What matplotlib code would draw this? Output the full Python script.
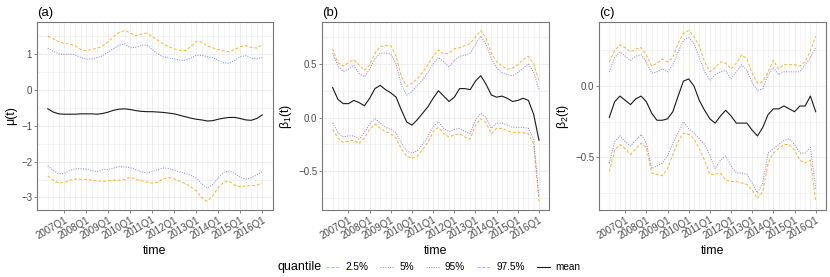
import matplotlib
matplotlib.use("Agg")
import matplotlib.pyplot as plt
from matplotlib.lines import Line2D
from matplotlib.ticker import FixedLocator, MultipleLocator
import numpy as np
import pandas as pd

plt.rcParams["font.family"] = ["Liberation Sans", "DejaVu Sans"]

# quarterly time axis
time = pd.period_range("2006Q2", "2016Q1", freq="Q")
tick_years = [2007, 2008, 2009, 2010, 2011, 2012, 2013, 2014, 2015, 2016]
tick_labels = ["2007Q1", "2008Q1", "2009Q1", "2010Q1", "2011Q1",
               "2012Q1", "2013Q1", "2014Q1", "2015Q1", "2016Q1"]

# (a) mu(t)
a_q975 = [1.49, 1.42, 1.34, 1.29, 1.28, 1.22, 1.12, 1.09, 1.12, 1.16,
          1.22, 1.34, 1.48, 1.60, 1.65, 1.58, 1.51, 1.55, 1.58, 1.48,
          1.38, 1.28, 1.20, 1.14, 1.10, 1.09, 1.20, 1.35, 1.33, 1.22,
          1.17, 1.12, 1.08, 1.06, 1.12, 1.20, 1.23, 1.18, 1.16, 1.26]
a_q95 = [1.15, 1.08, 1.00, 0.98, 1.00, 0.97, 0.90, 0.85, 0.86, 0.90,
         0.95, 1.05, 1.15, 1.24, 1.28, 1.17, 1.18, 1.24, 1.25, 1.12,
         1.00, 0.92, 0.88, 0.86, 0.83, 0.82, 0.88, 0.96, 0.96, 0.92,
         0.90, 0.82, 0.75, 0.74, 0.82, 0.92, 0.95, 0.88, 0.86, 0.90]
a_mean = [-0.53, -0.62, -0.67, -0.68, -0.68, -0.68, -0.67, -0.67, -0.67, -0.68,
          -0.66, -0.62, -0.57, -0.54, -0.53, -0.55, -0.58, -0.60, -0.61, -0.61,
          -0.62, -0.63, -0.65, -0.67, -0.71, -0.75, -0.79, -0.82, -0.84, -0.87,
          -0.86, -0.82, -0.79, -0.77, -0.77, -0.80, -0.84, -0.85, -0.80, -0.70]
a_q05 = [-2.12, -2.25, -2.34, -2.33, -2.25, -2.20, -2.20, -2.21, -2.25, -2.28,
         -2.23, -2.22, -2.18, -2.14, -2.15, -2.17, -2.22, -2.28, -2.32, -2.28,
         -2.22, -2.18, -2.19, -2.24, -2.29, -2.33, -2.38, -2.46, -2.62, -2.74,
         -2.64, -2.45, -2.30, -2.26, -2.33, -2.44, -2.49, -2.45, -2.37, -2.28]
a_q025 = [-2.40, -2.52, -2.60, -2.58, -2.52, -2.49, -2.49, -2.50, -2.52, -2.54,
          -2.55, -2.53, -2.52, -2.52, -2.50, -2.43, -2.50, -2.53, -2.57, -2.60,
          -2.57, -2.48, -2.44, -2.48, -2.55, -2.61, -2.70, -2.82, -3.00, -3.11,
          -2.95, -2.72, -2.57, -2.55, -2.66, -2.70, -2.68, -2.67, -2.66, -2.59]

# (b) beta_1(t)
b_q975 = [0.64, 0.51, 0.48, 0.51, 0.54, 0.49, 0.44, 0.49, 0.60, 0.66,
          0.67, 0.67, 0.57, 0.38, 0.29, 0.32, 0.36, 0.42, 0.49, 0.57,
          0.63, 0.59, 0.60, 0.64, 0.65, 0.67, 0.69, 0.75, 0.81, 0.74,
          0.60, 0.52, 0.48, 0.45, 0.46, 0.49, 0.54, 0.57, 0.50, 0.34]
b_q95 = [0.60, 0.48, 0.43, 0.45, 0.49, 0.41, 0.38, 0.45, 0.55, 0.60,
         0.60, 0.59, 0.50, 0.30, 0.21, 0.24, 0.30, 0.35, 0.42, 0.50,
         0.56, 0.52, 0.47, 0.53, 0.57, 0.58, 0.60, 0.68, 0.76, 0.68,
         0.55, 0.46, 0.42, 0.40, 0.39, 0.42, 0.46, 0.50, 0.42, 0.26]
b_mean = [0.28, 0.17, 0.13, 0.13, 0.16, 0.14, 0.11, 0.18, 0.27, 0.30,
          0.26, 0.23, 0.19, 0.07, -0.04, -0.07, -0.02, 0.04, 0.10, 0.18,
          0.25, 0.20, 0.15, 0.19, 0.27, 0.27, 0.26, 0.34, 0.39, 0.31,
          0.21, 0.19, 0.20, 0.18, 0.15, 0.16, 0.18, 0.16, 0.03, -0.21]
b_q05 = [-0.05, -0.14, -0.18, -0.17, -0.17, -0.20, -0.14, -0.06, -0.01, -0.05,
         -0.09, -0.11, -0.14, -0.24, -0.31, -0.33, -0.31, -0.25, -0.18, -0.08,
         -0.04, -0.10, -0.13, -0.11, -0.10, -0.13, -0.15, -0.02, 0.04, 0.00,
         -0.10, -0.05, -0.05, -0.07, -0.09, -0.09, -0.09, -0.10, -0.20, -0.73]
b_q025 = [-0.11, -0.19, -0.23, -0.22, -0.21, -0.24, -0.19, -0.11, -0.06, -0.10,
          -0.13, -0.15, -0.19, -0.29, -0.36, -0.38, -0.36, -0.30, -0.23, -0.13,
          -0.09, -0.15, -0.18, -0.16, -0.15, -0.18, -0.20, -0.07, -0.01, -0.05,
          -0.15, -0.10, -0.10, -0.12, -0.14, -0.14, -0.14, -0.15, -0.25, -0.78]

# (c) beta_2(t)
c_q975 = [0.17, 0.25, 0.29, 0.27, 0.24, 0.26, 0.27, 0.22, 0.14, 0.16,
          0.19, 0.17, 0.20, 0.30, 0.37, 0.39, 0.35, 0.28, 0.17, 0.10,
          0.13, 0.17, 0.16, 0.12, 0.16, 0.22, 0.19, 0.09, 0.02, 0.03,
          0.10, 0.18, 0.12, 0.15, 0.15, 0.15, 0.14, 0.17, 0.25, 0.35]
c_q95 = [0.10, 0.20, 0.24, 0.21, 0.18, 0.21, 0.22, 0.17, 0.09, 0.10,
         0.12, 0.10, 0.15, 0.24, 0.32, 0.34, 0.30, 0.20, 0.10, 0.04,
         0.08, 0.10, 0.11, 0.05, 0.10, 0.15, 0.11, 0.02, -0.03, -0.02,
         0.08, 0.13, 0.08, 0.10, 0.10, 0.10, 0.10, 0.15, 0.20, 0.27]
c_mean = [-0.22, -0.11, -0.07, -0.10, -0.13, -0.09, -0.07, -0.11, -0.19, -0.24,
          -0.24, -0.23, -0.18, -0.07, 0.035, 0.05, 0.00, -0.10, -0.17, -0.23,
          -0.26, -0.21, -0.17, -0.21, -0.26, -0.26, -0.26, -0.31, -0.35, -0.29,
          -0.20, -0.16, -0.16, -0.14, -0.16, -0.18, -0.14, -0.14, -0.07, -0.18]
c_q05 = [-0.54, -0.39, -0.35, -0.39, -0.42, -0.38, -0.34, -0.40, -0.58, -0.56,
         -0.54, -0.49, -0.40, -0.33, -0.25, -0.30, -0.33, -0.37, -0.41, -0.49,
         -0.58, -0.52, -0.49, -0.56, -0.61, -0.61, -0.62, -0.68, -0.75, -0.68,
         -0.47, -0.44, -0.41, -0.38, -0.37, -0.41, -0.47, -0.47, -0.43, -0.72]
c_q025 = [-0.60, -0.45, -0.41, -0.44, -0.48, -0.44, -0.40, -0.43, -0.61, -0.62,
          -0.63, -0.58, -0.48, -0.39, -0.33, -0.34, -0.37, -0.44, -0.52, -0.62,
          -0.62, -0.61, -0.66, -0.67, -0.67, -0.68, -0.69, -0.73, -0.79, -0.74,
          -0.54, -0.47, -0.44, -0.41, -0.41, -0.45, -0.52, -0.54, -0.52, -0.81]

ORANGE = "#FFA500"
BLUE = "#4545FF"
GRID = "#EBEBEB"

xs = time.year + (time.quarter - 1) / 4.0

panels = [
    ("(a)", "μ(t)", [a_q025, a_q05, a_q95, a_q975, a_mean], [0.0446, 0.2843], 1.0, 0.5),
    ("(b)", r"$\mathregular{\beta_1(t)}$", [b_q025, b_q05, b_q95, b_q975, b_mean], [0.3883, 0.2735], 0.5, 0.25),
    ("(c)", r"$\mathregular{\beta_2(t)}$", [c_q025, c_q05, c_q95, c_q975, c_mean], [0.7217, 0.2735], 0.5, 0.25),
]

fig = plt.figure(figsize=(8.3, 2.77), dpi=100)

for title, ylab, series, (left, width), major, minor in panels:
    ax = fig.add_axes([left, 0.2419, width, 0.6787])
    q025, q05, q95, q975, mean = series
    ax.plot(xs, q025, color=ORANGE, lw=0.7, ls=(0, (3, 2)), alpha=0.85)
    ax.plot(xs, q05, color=BLUE, lw=0.7, ls=(0, (1, 1.5)), alpha=0.7)
    ax.plot(xs, q95, color=BLUE, lw=0.7, ls=(0, (1, 1.5)), alpha=0.7)
    ax.plot(xs, q975, color=ORANGE, lw=0.7, ls=(0, (3, 2)), alpha=0.85)
    ax.plot(xs, mean, color="#1a1a1a", lw=0.8)

    span = xs[-1] - xs[0]
    ax.set_xlim(xs[0] - 0.05 * span, xs[-1] + 0.05 * span)
    allv = np.concatenate([np.asarray(s, dtype=float) for s in series])
    lo, hi = allv.min(), allv.max()
    ax.set_ylim(lo - 0.05 * (hi - lo), hi + 0.05 * (hi - lo))

    ax.set_xticks(tick_years)
    ax.set_xticklabels(tick_labels, rotation=30, ha="right", va="top",
                       rotation_mode="anchor")
    ax.xaxis.set_minor_locator(FixedLocator(list(xs)))
    ax.yaxis.set_major_locator(MultipleLocator(major))
    ax.yaxis.set_minor_locator(MultipleLocator(minor))
    if major == 1.0:
        ax.yaxis.set_major_formatter(lambda v, p: f"{v:.0f}".replace("-", "\u2212"))
    else:
        ax.yaxis.set_major_formatter(lambda v, p: f"{v:.1f}".replace("-", "\u2212"))

    ax.grid(True, which="major", color=GRID, lw=0.6)
    ax.grid(True, which="minor", color=GRID, lw=0.4)
    ax.set_axisbelow(True)
    ax.tick_params(which="major", length=2, width=0.5, color="#555555",
                   labelsize=7, labelcolor="#4D4D4D", pad=1.5)
    ax.tick_params(which="minor", length=0)
    for sp in ax.spines.values():
        sp.set_color("#777777")
        sp.set_linewidth(0.8)

    ax.set_xlabel("time", fontsize=8.8, labelpad=3)
    ax.set_ylabel(ylab, fontsize=8.8, labelpad=3)
    ax.set_title(title, loc="left", fontsize=9.5, pad=4, x=0.0)

# legend along the bottom
fig.text(0.334, 0.035, "quantile", fontsize=9, va="center", ha="left")
handles = [
    Line2D([], [], color=ORANGE, lw=0.7, ls=(0, (3, 2)), alpha=0.85),
    Line2D([], [], color=BLUE, lw=0.7, ls=(0, (1, 1.5)), alpha=0.7),
    Line2D([], [], color=BLUE, lw=0.7, ls=(0, (1, 1.5)), alpha=0.7),
    Line2D([], [], color=ORANGE, lw=0.7, ls=(0, (3, 2)), alpha=0.85),
    Line2D([], [], color="#1a1a1a", lw=0.8),
]
labels = ["2.5%", "5%", "95%", "97.5%", "mean"]
fig.legend(handles, labels, loc="center left", bbox_to_anchor=(0.393, 0.035),
           ncol=5, frameon=False, fontsize=7.2, handlelength=1.3,
           handletextpad=0.6, columnspacing=1.2, borderpad=0, borderaxespad=0)

fig.savefig("out.png", dpi=100)
